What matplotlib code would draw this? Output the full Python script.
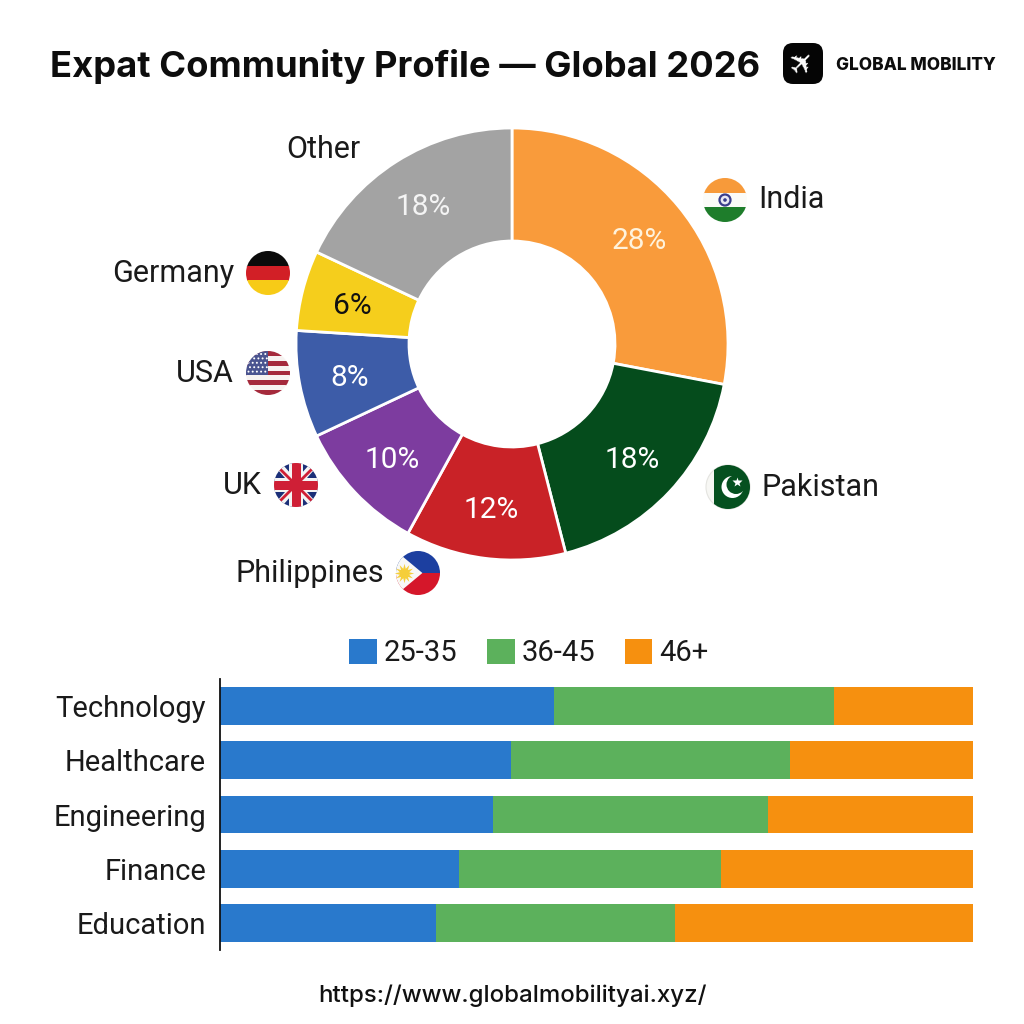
import matplotlib
matplotlib.use("Agg")
import matplotlib.pyplot as plt
from matplotlib.patches import Circle, Rectangle, Polygon, FancyBboxPatch
from matplotlib.lines import Line2D
import numpy as np

plt.rcParams['font.family'] = ['Roboto', 'DejaVu Sans']

# Community share by country
countries = ["India", "Pakistan", "Philippines", "UK", "USA", "Germany", "Other"]
shares = [28, 18, 12, 10, 8, 6, 18]
share_colors = ["#F99B3B", "#054C1C", "#C92227", "#7D3C9F", "#3D5CA8", "#F5CE1C", "#A3A3A3"]
share_text_colors = ["#FFF3DC", "white", "white", "white", "white", "#111111", "#F4F4F4"]

# Age mix by sector
sectors = ["Technology", "Healthcare", "Engineering", "Finance", "Education"]
age_groups = ["25-35", "36-45", "46+"]
age_25_35 = [44.4, 38.6, 36.3, 31.7, 28.7]
age_36_45 = [37.2, 37.1, 36.5, 34.9, 31.7]
age_46_up = [18.4, 24.3, 27.2, 33.4, 39.6]
age_colors = ["#2979CC", "#5CB15C", "#F6900F"]

S = 1024
fig = plt.figure(figsize=(10.24, 10.24), dpi=100, facecolor="white")

# Donut
cx, cy, R, r_in = 512, 344, 216, 103
ax_d = fig.add_axes([(cx - R) / S, 1 - (cy + R) / S, 2 * R / S, 2 * R / S])
wedges, _ = ax_d.pie(shares, colors=share_colors, startangle=90, counterclock=False, radius=1,
                     wedgeprops=dict(width=(R - r_in) / R, edgecolor="white", linewidth=2))
ax_d.set_xlim(-1, 1)
ax_d.set_ylim(-1, 1)
for w in wedges:
    w.set_clip_on(False)
for w, val, col in zip(wedges, shares, share_text_colors):
    a = np.deg2rad((w.theta1 + w.theta2) / 2)
    ax_d.text(0.764 * np.cos(a), 0.764 * np.sin(a) - 0.012, f"{val}%", color=col, fontsize=21.5,
              ha="center", va="center")

# Stacked bars
ax_b = fig.add_axes([220 / S, 1 - 950 / S, 753 / S, 271 / S])
y = np.arange(len(sectors))
left = np.zeros(len(sectors))
for vals, col, lab in zip([age_25_35, age_36_45, age_46_up], age_colors, age_groups):
    ax_b.barh(y, vals, left=left, height=0.7, color=col, label=lab)
    left += np.array(vals)
ax_b.set_xlim(0, 100)
ax_b.set_ylim(len(sectors) - 0.5, -0.5)
ax_b.set_yticks(y, sectors, fontsize=21, color="#1a1a1a")
ax_b.set_xticks([])
ax_b.tick_params(axis="y", length=0, pad=10)
for s in ["top", "right", "bottom"]:
    ax_b.spines[s].set_visible(False)
ax_b.spines["left"].set_linewidth(1.3)
ax_b.spines["left"].set_color("#111111")
handles, labels = ax_b.get_legend_handles_labels()
fig.legend(handles, labels, loc="center", bbox_to_anchor=(529 / S, 1 - 653 / S), ncol=3, frameon=False,
           fontsize=21, handlelength=0.95, handleheight=0.95, handletextpad=0.25,
           columnspacing=1.0, labelcolor="#1a1a1a", borderpad=0, borderaxespad=0)

# Overlay in pixel units for heading, logo, country tags and flags
ov = fig.add_axes([0, 0, 1, 1], facecolor="none")
ov.set_xlim(0, S)
ov.set_ylim(S, 0)
ov.axis("off")

ov.text(50, 66, "Expat Community Profile — Global 2026", fontsize=26.2, fontweight="bold",
        family=["Inter", "DejaVu Sans"], color="#0d0d0d", ha="left", va="center")
ov.text(512, 996, "https://www.globalmobilityai.xyz/", fontsize=17.3, fontweight="medium",
        family=["Inter", "DejaVu Sans"], color="#111111", ha="center", va="center")

ov.add_patch(FancyBboxPatch((791, 51), 24, 25, boxstyle="round,pad=8,rounding_size=10",
                            fc="#050505", ec="none"))
ov.text(803, 63.5, "\u2708", family="DejaVu Sans", fontsize=22, color="white", rotation=45,
        ha="center", va="center")
ov.text(836, 65, "GLOBAL MOBILITY", fontsize=12.4, fontweight="heavy",
        family=["Inter", "DejaVu Sans"], color="#0d0d0d", ha="left", va="center")

tag_font = 22
tags = [("Other", 361, 149, "right"), ("India", 758, 200, "left"), ("Pakistan", 762, 487, "left"),
        ("Philippines", 384, 573, "right"), ("UK", 262, 486, "right"), ("USA", 234, 373, "right"),
        ("Germany", 234, 274, "right")]
for name, x, yy, ha in tags:
    ov.text(x, yy, name, fontsize=tag_font, color="#1a1a1a", ha=ha, va="center")


def disc(x, y, r):
    c = Circle((x, y), r, fc="none", ec="none")
    ov.add_patch(c)
    return c


def clipped(patch, c):
    ov.add_patch(patch)
    patch.set_clip_path(c)
    return patch


def rect(x, y, w, h, col, c):
    clipped(Rectangle((x, y), w, h, fc=col, ec="none"), c)


def flag_india(x, y, r):
    c = disc(x, y, r)
    rect(x - r, y - r, 2 * r, 2 * r / 3 + 1, "#F79A3A", c)
    rect(x - r, y - r / 3, 2 * r, 2 * r / 3, "#FBFBF8", c)
    rect(x - r, y + r / 3, 2 * r, 2 * r / 3, "#1E7D2B", c)
    ov.add_patch(Circle((x, y), 5.5, fc="#E8E8F4", ec="#3A3D8C", lw=1.6))
    ov.add_patch(Circle((x, y), 1.8, fc="#3A3D8C", ec="none"))


def flag_pakistan(x, y, r):
    c = disc(x, y, r)
    rect(x - r, y - r, 2 * r, 2 * r, "#F7F7F4", c)
    ov.add_patch(Circle((x, y), r, fc="none", ec="#E4E4E0", lw=0.8))
    rect(x - r + 0.18 * 2 * r, y - r, 2 * r, 2 * r, "#05501F", c)
    ov.add_patch(Circle((x + 4.5, y), 11, fc="white", ec="none"))
    ov.add_patch(Circle((x + 8, y - 2.5), 9.5, fc="#05501F", ec="none"))
    ov.plot([x + 9], [y - 5], marker="*", ms=7, color="white", mec="none")


def flag_philippines(x, y, r):
    c = disc(x, y, r)
    rect(x - r, y - r, 2 * r, r, "#1C3FA0", c)
    rect(x - r, y, 2 * r, r, "#D5172A", c)
    clipped(Polygon([(x - r, y - r), (x + 0.2 * r, y), (x - r, y + r)], fc="#F8F8F6", ec="none"), c)
    ov.plot([x - 0.63 * r], [y], marker=(12, 1, 0), ms=14, color="#F5CE3A", mec="none")


def flag_uk(x, y, r):
    c = disc(x, y, r)
    rect(x - r, y - r, 2 * r, 2 * r, "#1B2F78", c)
    for d in (1, -1):
        clipped(Polygon([(x - r - 4, y - d * r - d * 2), (x - r + 2, y - d * r - d * 6),
                         (x + r + 4, y + d * r + d * 2), (x + r - 2, y + d * r + d * 6)],
                        fc="#F4F4F4", ec="none"), c)
        l = Line2D([x - r, x + r], [y - d * r, y + d * r], color="#CF1F36", lw=2)
        ov.add_line(l)
        l.set_clip_path(c)
    rect(x - r, y - 7, 2 * r, 14, "#F4F4F4", c)
    rect(x - 7, y - r, 14, 2 * r, "#F4F4F4", c)
    rect(x - r, y - 4.5, 2 * r, 9, "#CF1F36", c)
    rect(x - 4.5, y - r, 9, 2 * r, "#CF1F36", c)


def flag_usa(x, y, r):
    c = disc(x, y, r)
    n = 9
    h = 2 * r / n
    for i in range(n):
        rect(x - r, y - r + i * h, 2 * r, h + 0.3, "#A52A3C" if i % 2 == 0 else "#F7F3F1", c)
    rect(x - r, y - r, r, 5 * h, "#4A5490", c)
    for row in range(5):
        for col in range(5):
            sx = x - r + 2.5 + col * 4.2 + (row % 2) * 1.5
            sy = y - r + 3 + row * 4.4
            if sx < x - 1:
                clipped(Circle((sx, sy), 1.0, fc="white", ec="none"), c)


def flag_germany(x, y, r):
    c = disc(x, y, r)
    rect(x - r, y - r, 2 * r, 2 * r / 3 + 1, "#0B0B0B", c)
    rect(x - r, y - r / 3, 2 * r, 2 * r / 3 + 1, "#D21F26", c)
    rect(x - r, y + r / 3, 2 * r, 2 * r / 3, "#F7CB17", c)


flag_india(725, 200, 22)
flag_pakistan(728, 487, 22)
flag_philippines(418, 573, 22)
flag_uk(296, 485, 22)
flag_usa(268, 373, 22)
flag_germany(268, 273, 22)

fig.savefig("out.png", dpi=100, facecolor="white")
